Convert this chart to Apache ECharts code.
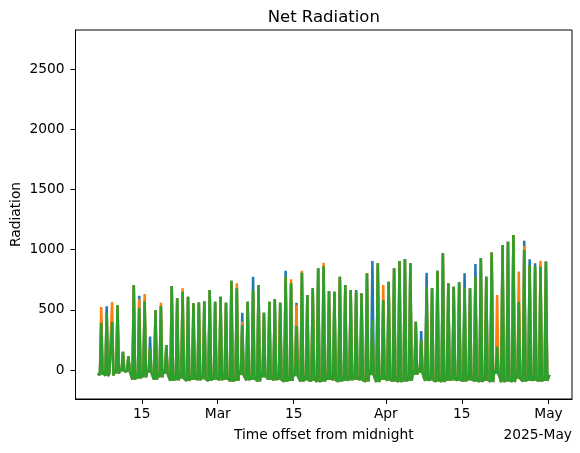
<!DOCTYPE html>
<html>
<head>
<meta charset="utf-8">
<script src="https://cdn.jsdelivr.net/npm/echarts@6/dist/echarts.min.js"></script>
<style>html,body{margin:0;padding:0;background:#fff;}#c{width:580px;height:453px;}</style>
</head>
<body>
<div id="c"></div>
<script>
// First day shown (daily cycles), one value per day from Feb 7 to Apr 30
const firstDay = '2025-02-07';
const dayPeakGreen = [390,473,400,540,150,116,705,515,570,180,498,531,208,698,595,650,609,554,560,570,664,567,
  609,559,742,678,374,567,664,706,476,567,590,559,775,720,365,808,623,678,845,864,656,650,775,706,664,650,637,803,415,886,581,
  733,845,905,922,886,401,249,692,678,825,969,720,692,728,678,678,775,928,775,975,194,1038,1066,1121,567,997,872,858,858,900];
const dayPeakBlue = [430,530,400,530,150,116,700,617,565,277,495,531,208,698,595,650,609,554,560,570,664,567,
  609,559,742,678,476,567,775,706,476,567,590,559,825,720,559,808,623,678,845,864,656,650,775,706,664,664,637,803,905,886,581,
  733,845,905,922,886,401,324,808,678,825,969,720,692,728,803,678,880,928,775,975,194,1038,1066,1121,567,1074,919,886,858,900];
const dayPeakOrange = [523,470,565,530,150,116,700,590,631,180,495,559,208,698,595,678,609,554,560,570,664,567,
  609,559,742,720,400,567,664,706,476,567,590,559,775,753,540,825,623,678,845,891,656,650,775,706,664,650,637,803,400,886,706,
  733,845,905,922,886,401,249,692,678,825,969,720,692,728,678,678,775,928,775,975,623,1038,1066,1121,817,1030,872,858,908,900];
// pre-dawn low and midnight value per day
const nightLow = [-40,-50,-45,-30,-10,-10,-80,-70,-60,-20,-80,-60,-30,-90,-85,-70,-90,-80,-85,-75,-90,-80,
  -85,-80,-95,-90,-40,-85,-80,-95,-60,-80,-85,-80,-95,-90,-50,-95,-85,-90,-100,-95,-80,-85,-95,-90,-85,-80,-85,-95,-40,-100,-80,
  -90,-95,-100,-95,-90,-40,-20,-90,-85,-95,-100,-90,-85,-90,-95,-85,-95,-100,-90,-100,-30,-100,-95,-100,-70,-95,-90,-90,-95,-90];
const nightMid = [-20,-10,-30,0,10,5,-40,-30,-10,0,-50,-20,0,-60,-40,-30,-60,-50,-30,-40,-60,-40,
  -50,-30,-60,-70,0,-40,-50,-60,-20,-40,-50,-30,-70,-60,-10,-60,-50,-70,-60,-70,-40,-50,-70,-60,-50,-40,-60,-70,0,-70,-50,
  -60,-70,-60,-70,-50,0,10,-60,-50,-70,-60,-60,-40,-60,-70,-40,-60,-70,-60,-70,0,-60,-70,-60,-30,-70,-60,-50,-70,-60];
const leadIn = -30, tailOut = -40;

const xTickDates = ['2025-02-15','2025-03-01','2025-03-15','2025-04-01','2025-04-15','2025-05-01'];
const xTickLabels = ['15','Mar','15','Apr','15','May'];
const yTicks = [0,500,1000,1500,2000,2500];

const DAY = 86400000, HOUR = 3600000;
const t0 = new Date(firstDay + 'T00:00:00Z').getTime();
function build(peaks){
  const d = [[t0 - 3*HOUR, leadIn]];
  for (let i = 0; i < peaks.length; i++) {
    const b = t0 + i*DAY;
    d.push([b, nightMid[i]]);
    d.push([b + 6.5*HOUR, nightLow[i]]);
    d.push([b + 12.5*HOUR, peaks[i]]);
    d.push([b + 18.5*HOUR, nightLow[i]]);
  }
  d.push([t0 + peaks.length*DAY + 4*HOUR, tailOut]);
  return d;
}
const tickTs = xTickDates.map(s => new Date(s + 'T00:00:00Z').getTime());
const labelOf = {};
tickTs.forEach((t,i) => labelOf[t] = xTickLabels[i]);
const xMin = tickTs[0] - 12.23*DAY, xMax = tickTs[5] + 4.33*DAY;

const font = 'DejaVu Sans';
const fs = 13.8;
const chart = echarts.init(document.getElementById('c'));
chart.setOption({
  animation: false,
  grid: {left: 75.5, right: 8, top: 30, bottom: 54, outerBoundsMode: 'none', containLabel: false,
    show: true, borderColor: '#000', borderWidth: 1, backgroundColor: 'transparent'},
  xAxis: {
    type: 'value', min: xMin, max: xMax,
    name: 'Time offset from midnight', nameLocation: 'middle', nameGap: 29, nameMoveOverlap: false,
    nameTextStyle: {fontFamily: font, fontSize: fs, color: '#000', verticalAlign: 'top'},
    axisLine: {show: true, onZero: false, lineStyle: {color: '#000', width: 1}},
    axisTick: {show: true, inside: false, length: 5, customValues: tickTs, lineStyle: {color: '#000'}},
    axisLabel: {customValues: tickTs, margin: 8, fontFamily: font, fontSize: fs, color: '#000',
      formatter: v => labelOf[v] || ''},
    splitLine: {show: false}
  },
  yAxis: {
    type: 'value', min: -241, max: 2824,
    name: 'Radiation', nameLocation: 'middle', nameGap: 52, nameRotate: 90, nameMoveOverlap: false,
    nameTextStyle: {fontFamily: font, fontSize: fs, color: '#000'},
    axisLine: {show: true, onZero: false, lineStyle: {color: '#000', width: 1}},
    axisTick: {show: true, inside: false, length: 5, customValues: yTicks, lineStyle: {color: '#000'}},
    axisLabel: {customValues: yTicks, margin: 11, fontFamily: font, fontSize: fs, color: '#000',
      formatter: v => String(v)},
    splitLine: {show: false}
  },
  series: [
    {type: 'line', data: build(dayPeakBlue), showSymbol: false, lineStyle: {color: '#1f77b4', width: 2.5}, itemStyle:{color:'#1f77b4'}},
    {type: 'line', data: build(dayPeakOrange), showSymbol: false, lineStyle: {color: '#ff7f0e', width: 2.5}, itemStyle:{color:'#ff7f0e'}},
    {type: 'line', data: build(dayPeakGreen), showSymbol: false, lineStyle: {color: '#2ca02c', width: 2.5}, itemStyle:{color:'#2ca02c'}}
  ],
  graphic: [
    {type: 'text', x: 323.75, y: 9, style: {text: 'Net Radiation', fontFamily: font, fontSize: 16.5, fill: '#000', textAlign: 'center', textVerticalAlign: 'top'}},
    {type: 'text', x: 572, y: 428, style: {text: '2025-May', fontFamily: font, fontSize: fs, fill: '#000', textAlign: 'right', textVerticalAlign: 'top'}}
  ]
});
</script>
</body>
</html>
